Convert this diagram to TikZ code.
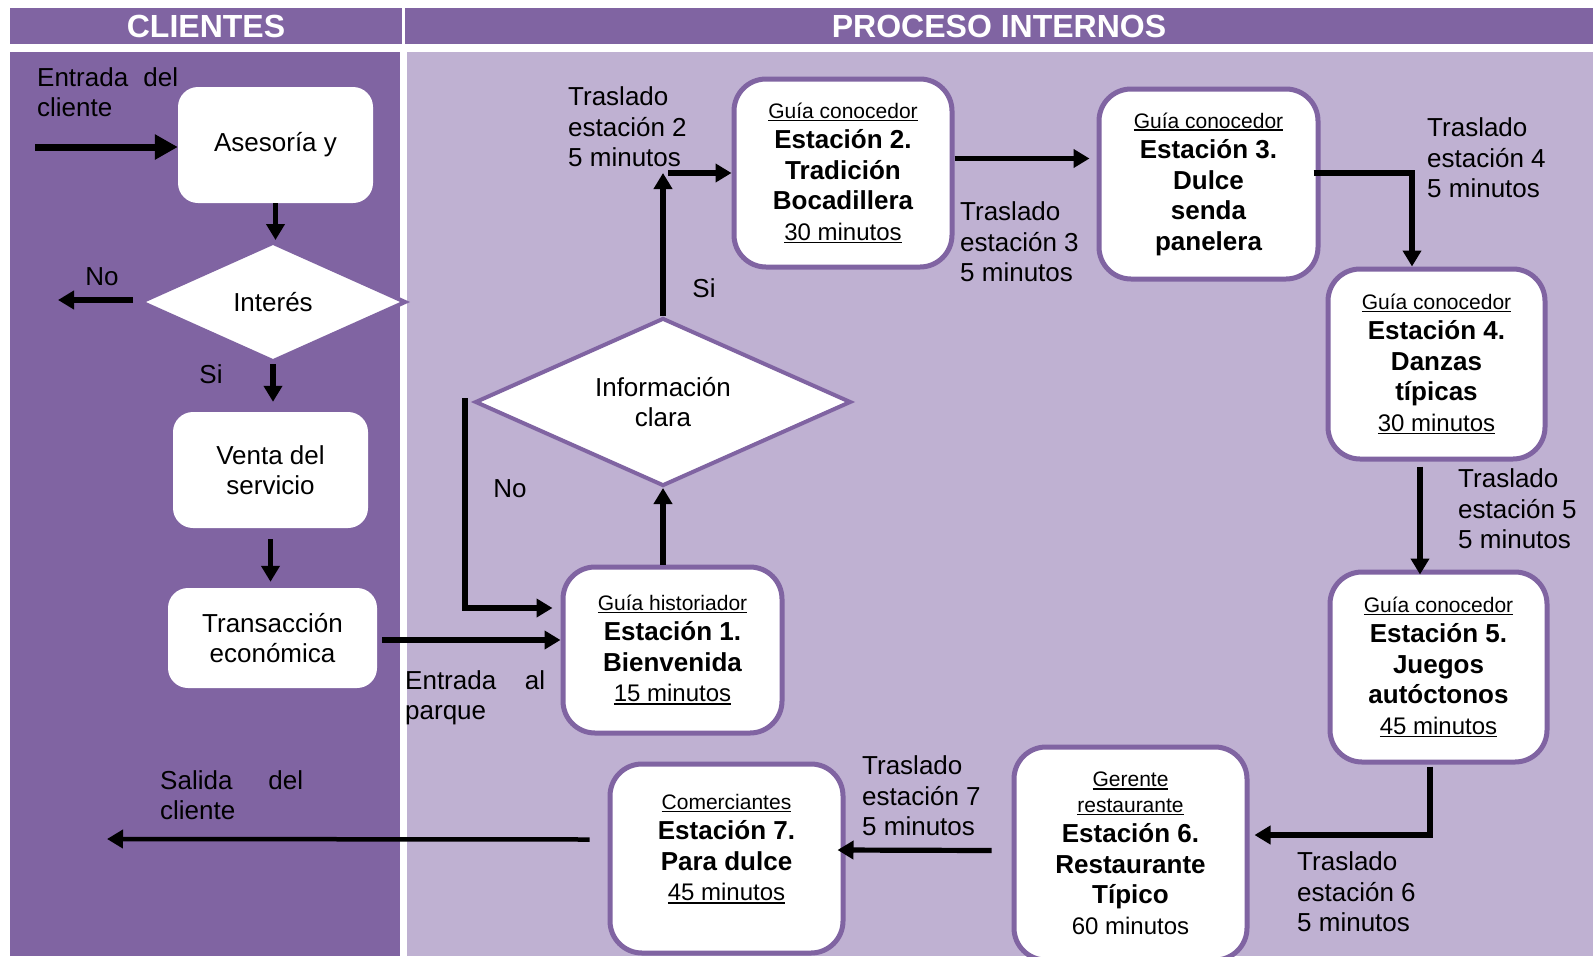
\documentclass[tikz,border=0pt]{standalone}
\usepackage{fontspec}
\setmainfont{Liberation Sans}
\usepackage{xcolor}
\usepackage{tikz}
\usetikzlibrary{arrows.meta, positioning, calc, shapes.geometric}
\definecolor{moradoosc}{HTML}{8064A2}
\definecolor{moradocla}{HTML}{BFB1D2}
\newcommand{\cuerpo}{\fontsize{26}{30.5}\selectfont}
\newsavebox{\cajasub}
\newcommand{\subr}[1]{\sbox\cajasub{#1}\rlap{\rule[-3pt]{\wd\cajasub}{1.6pt}}\usebox\cajasub}
\newcommand{\guia}[1]{{\fontsize{21}{30}\selectfont\mdseries\subr{#1}}}
\newcommand{\tiempo}[1]{{\fontsize{24}{30}\selectfont\mdseries\subr{#1}}}

\begin{document}
\begin{tikzpicture}[x=1pt, y=-1pt,
  station/.style={draw=moradoosc, line width=5pt, fill=white, rounded corners=32pt, align=center, inner sep=0pt, font=\cuerpo\bfseries},
  clientbox/.style={fill=white, rounded corners=20pt, align=center, inner sep=0pt, font=\cuerpo},
  decision/.style={diamond, shape aspect=2.2, draw=moradoosc, line width=4pt, fill=white, inner sep=0pt, align=center, font=\cuerpo},
  arr/.style={line width=5.2pt, -{Triangle[length=16pt, width=18pt]}},
  note/.style={anchor=west, align=left, inner sep=0pt, font=\cuerpo},
  header/.style={fill=moradoosc, text=white, inner sep=0pt, font=\fontsize{32}{36}\selectfont\bfseries}]

\useasboundingbox (0,0) rectangle (1593,956);
\fill[white] (0,0) rectangle (1593,956);

% ── LANES ─────────────────────────────────────────────────────────
\node[header, minimum width=392pt, minimum height=36pt] (titcli) at (206,26) {CLIENTES};
\node[header, minimum width=1188pt, minimum height=36pt] (titpro) at (999,26) {PROCESO INTERNOS};
\fill[moradoosc] (10,52) rectangle (400,956);
\fill[moradocla] (407,52) rectangle (1593,956);

% ── CLIENTES ──────────────────────────────────────────────────────
\node[clientbox, minimum width=195pt, minimum height=116pt] (ases) at (275.5,145) {Asesoría y};
\node[decision, minimum width=266pt, minimum height=120pt] (interes) at (273,302) {Interés};
\node[clientbox, minimum width=195pt, minimum height=116pt] (venta) at (270.5,470) {Venta del\\servicio};
\node[clientbox, minimum width=209pt, minimum height=100pt] (trans) at (272.5,638) {Transacción\\económica};

\node[note, text width=141pt] (entcli) at (37,92) {Entrada\hfill del\\cliente};
\node[note, text width=143pt] (salcli) at (160,795) {Salida\hfill del\\cliente};
\node[font=\cuerpo] (nocli) at (102,277) {No};
\node[font=\cuerpo] (sicli) at (211,374) {Si};

\coordinate (entrada) at (35,147);
\coordinate (fuera) at (58,300);
\coordinate (salida) at (107,839);

\draw[arr, line width=7pt, -{Triangle[length=23pt, width=24pt]}] (entrada) -- (entrada -| ases.west);
\draw[arr] (ases.south) -- (ases.south |- interes.north);
\draw[arr] ($(interes.west)+(-5,-2)$) -- (fuera);
\draw[arr] (interes.south) -- ($(interes.south |- venta.north)+(0,-10)$);
\draw[arr] ($(venta.south)+(0,11)$) -- ($(venta.south |- trans.north)+(0,-6)$);

% ── PROCESO INTERNOS ──────────────────────────────────────────────
\node[station, minimum width=219pt, minimum height=166pt] (est1) at (672.5,650)
    {\guia{Guía historiador}\\Estación 1.\\Bienvenida\\\tiempo{15 minutos}};
\node[decision, minimum width=376pt, minimum height=168pt] (info) at (663,402) {Información\\clara};
\node[station, minimum width=218pt, minimum height=188pt] (est2) at (843,173)
    {\guia{Guía conocedor}\\Estación 2.\\Tradición\\Bocadillera\\\tiempo{30 minutos}};
\node[station, minimum width=219pt, minimum height=190pt] (est3) at (1208.5,184)
    {\guia{Guía conocedor}\\Estación 3.\\Dulce\\senda\\panelera};
\node[station, minimum width=217pt, minimum height=190pt] (est4) at (1436.5,364)
    {\guia{Guía conocedor}\\Estación 4.\\Danzas\\típicas\\\tiempo{30 minutos}};
\node[station, minimum width=217pt, minimum height=190pt] (est5) at (1438.5,667)
    {\guia{Guía conocedor}\\Estación 5.\\Juegos\\autóctonos\\\tiempo{45 minutos}};
\node[station, minimum width=233pt, minimum height=213pt] (est6) at (1130.5,853.5)
    {\guia{Gerente}\\[-5pt]\guia{restaurante}\\Estación 6.\\Restaurante\\Típico\\{\fontsize{24}{30}\selectfont\mdseries 60 minutos}};
\node[station, minimum width=233pt, minimum height=189pt] (est7) at (726.5,858.5)
    {\guia{Comerciantes}\\Estación 7.\\Para dulce\\\tiempo{45 minutos}\\[-8pt]\mbox{}};

% Traslados
\node[note, text width=140pt] (entpar) at (405,698) {Entrada\hfill al\\parque};
\node[note] (tras2) at (568,127) {Traslado\\estación 2\\5 minutos};
\node[note] (tras3) at (960,242) {Traslado\\estación 3\\5 minutos};
\node[note] (tras4) at (1427,158) {Traslado\\estación 4\\5 minutos};
\node[note] (tras5) at (1458,509) {Traslado\\estación 5\\5 minutos};
\node[note] (tras6) at (1297,892) {Traslado\\estación 6\\5 minutos};
\node[note] (tras7) at (862,796) {Traslado\\estación 7\\5 minutos};
\node[font=\cuerpo] (noinfo) at (510,489) {No};
\node[font=\cuerpo] (siinfo) at (704,288) {Si};

\coordinate (esquina) at (info.north |- est2.west);

\draw[arr] ($(trans.east)+(5,2)$) -- ($(est1.west)+(0,-10)$);
\draw[arr] (info.south |- est1.north) -- (info.south);
\draw[arr] ($(info.west)+(-8,-4)$) |- ($(est1.west)+(-8,-42)$);
\draw[arr] (info.north) -- (esquina);
\draw[arr] ($(esquina)+(5,0)$) -- (est2.west);
\draw[arr] ($(est2.east)+(0,-14.5)$) -- ($(est3.west)+(-7,-25.5)$);
\draw[arr] ($(est3.east)+(-7,-11)$) -| ($(est4.north)+(-24.5,0)$);
\draw[arr] ($(est4.south)+(-16.5,5)$) -- ($(est5.north)+(-18.5,5)$);
\draw[arr] ($(est5.south)+(-8.5,2)$) |- ($(est6.east)+(5,-18.5)$);
\draw[arr] ($(est6.west)+(-20,-3)$) -- ($(est7.east)+(-8,-8.5)$);
\draw[arr, line width=4.5pt] ($(est7.west)+(-18,-19)$) -- (salida);

\end{tikzpicture}
\end{document}
